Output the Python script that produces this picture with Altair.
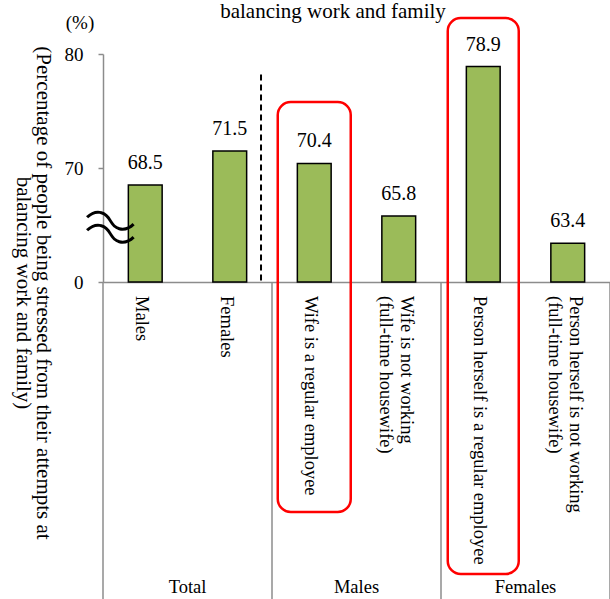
import altair as alt
import pandas as pd

FONT = "Liberation Serif"

categories = [
    "Males",
    "Females",
    "Wife is a regular employee",
    "Wife is not working\n(full-time housewife)",
    "Person herself is a regular employee",
    "Person herself is not working\n(full-time housewife)",
]
values = [68.5, 71.5, 70.4, 65.8, 78.9, 63.4]
groups = ["Total", "Males", "Females"]
group_anchor = [categories[0], categories[2], categories[4]]
y_ticks = [60, 70, 80]
y_tick_labels = ["0", "70", "80"]
axis_base = 60
highlighted = [categories[2], categories[4]]

df = pd.DataFrame({"category": categories, "value": values, "base": [axis_base] * len(values)})
df["label"] = [f"{v:.1f}" for v in values]
df["lines"] = [c.count("\n") + 1 for c in categories]
grp = pd.DataFrame({"group": groups, "anchor": group_anchor})
sep = pd.DataFrame({"category": group_anchor})
sep_end = pd.DataFrame({"category": [categories[-1]]})
dash = pd.DataFrame({"category": [categories[1]], "top": [78.2], "base": [axis_base]})
hl = pd.DataFrame({"category": highlighted})

xscale = alt.Scale(domain=categories, paddingInner=0, paddingOuter=0)
label_map = "{" + ",".join(f"'{t}':'{l}'" for t, l in zip(y_ticks, y_tick_labels)) + "}"

yscale = alt.Scale(domain=[60, 80], zero=False, nice=False)

bars = alt.Chart(df).mark_bar(
    width=alt.RelativeBandSize(0.4), fill="#9BBB59", stroke="black", strokeWidth=1.5
).encode(
    x=alt.X("category:N", sort=categories, scale=xscale,
            axis=alt.Axis(title=None, labels=False, ticks=False, domainColor="#8c8c8c", domainWidth=1.5)),
    y=alt.Y("value:Q", scale=yscale,
            axis=alt.Axis(title=None, values=y_ticks, grid=False,
                          labelExpr=f"{label_map}[datum.value]",
                          labelFont=FONT, labelFontSize=19, labelColor="black",
                          domainColor="#8c8c8c", domainWidth=1.5, tickColor="#8c8c8c",
                          tickSize=5, tickWidth=1.5, labelPadding=15)),
    y2=alt.Y2("base:Q"),
)

vlabels = alt.Chart(df).mark_text(
    font=FONT, fontSize=20, color="black", baseline="bottom", dy=-12
).encode(
    x=alt.X("category:N", sort=categories, scale=xscale),
    y=alt.Y("value:Q", scale=yscale),
    text="label:N",
)

catlabels1 = alt.Chart(df).transform_filter("datum.lines == 1").mark_text(
    font=FONT, fontSize=18.5, color="black", angle=90, align="left", baseline="middle", dy=3
).encode(
    x=alt.X("category:N", sort=categories, scale=xscale),
    y=alt.value(242),
    text="category:N",
)
catlabels2 = alt.Chart(df).transform_filter("datum.lines == 2").mark_text(
    font=FONT, fontSize=18.5, color="black", angle=90, align="left", baseline="middle",
    lineBreak="\n", lineHeight=21, dy=-8
).encode(
    x=alt.X("category:N", sort=categories, scale=xscale),
    y=alt.value(242),
    text="category:N",
)

seps = alt.Chart(sep).mark_rule(color="#8c8c8c", strokeWidth=1.5).encode(
    x=alt.X("category:N", sort=categories, scale=xscale, bandPosition=0),
    y=alt.value(228), y2=alt.value(545),
)
seps_end = alt.Chart(sep_end).mark_rule(color="#8c8c8c", strokeWidth=1.5).encode(
    x=alt.X("category:N", sort=categories, scale=xscale, bandPosition=1),
    y=alt.value(228), y2=alt.value(545),
)

glabels = alt.Chart(grp).mark_text(font=FONT, fontSize=18.5, color="black", baseline="middle").encode(
    x=alt.X("anchor:N", sort=categories, scale=xscale, bandPosition=1),
    y=alt.value(533),
    text="group:N",
)

dashed = alt.Chart(dash).mark_rule(color="black", strokeWidth=2, strokeDash=[6, 4]).encode(
    x=alt.X("category:N", sort=categories, scale=xscale, bandPosition=0.87),
    y=alt.Y("top:Q", scale=yscale),
    y2="base:Q",
)

box1 = alt.Chart(hl.iloc[[0]]).mark_bar(
    width=73, fillOpacity=0, stroke="#FF0000", strokeWidth=2.5, cornerRadius=13
).encode(
    x=alt.X("category:N", sort=categories, scale=xscale),
    y=alt.value(48), y2=alt.value(458),
)
box2 = alt.Chart(hl.iloc[[1]]).mark_bar(
    width=71, fillOpacity=0, stroke="#FF0000", strokeWidth=2.5, cornerRadius=13
).encode(
    x=alt.X("category:N", sort=categories, scale=xscale),
    y=alt.value(-36), y2=alt.value(520),
)

pct = alt.Chart(pd.DataFrame({"t": ["(%)"]})).mark_text(
    font=FONT, fontSize=19, color="black", baseline="middle"
).encode(x=alt.value(-23), y=alt.value(-31), text="t:N")

title_txt = alt.Chart(pd.DataFrame({"t": ["balancing work and family"]})).mark_text(
    font=FONT, fontSize=21, color="black", baseline="alphabetic"
).encode(x=alt.value(230), y=alt.value(-36), text="t:N")

ytitle = alt.Chart(pd.DataFrame({"t": ["(Percentage of people being stressed from their attempts at\nbalancing work and family)"]})).mark_text(
    font=FONT, fontSize=21, color="black", angle=90, align="center", baseline="middle",
    lineBreak="\n", lineHeight=20
).encode(x=alt.value(-60), y=alt.value(239), text="t:N")

squig = alt.Chart(pd.DataFrame({"t": ["〜", "〜"], "yy": [171, 184]})).mark_text(
    font="Noto Sans CJK JP", fontSize=54, fontWeight=300, color="black", angle=16, baseline="middle"
).encode(x=alt.value(6), y=alt.Y("yy:Q", scale=None), text="t:N")

chart = alt.layer(
    bars, vlabels, catlabels1, catlabels2, seps, seps_end, glabels, dashed, box1, box2,
    pct, title_txt, ytitle, squig
).properties(
    width=507, height=228,
    autosize=alt.AutoSizeParams(type="none"),
    padding={"left": 103, "top": 54, "right": 0, "bottom": 317},
).configure_view(stroke=None)

chart.save("out.html", embed_options={"renderer": "svg", "actions": False})
